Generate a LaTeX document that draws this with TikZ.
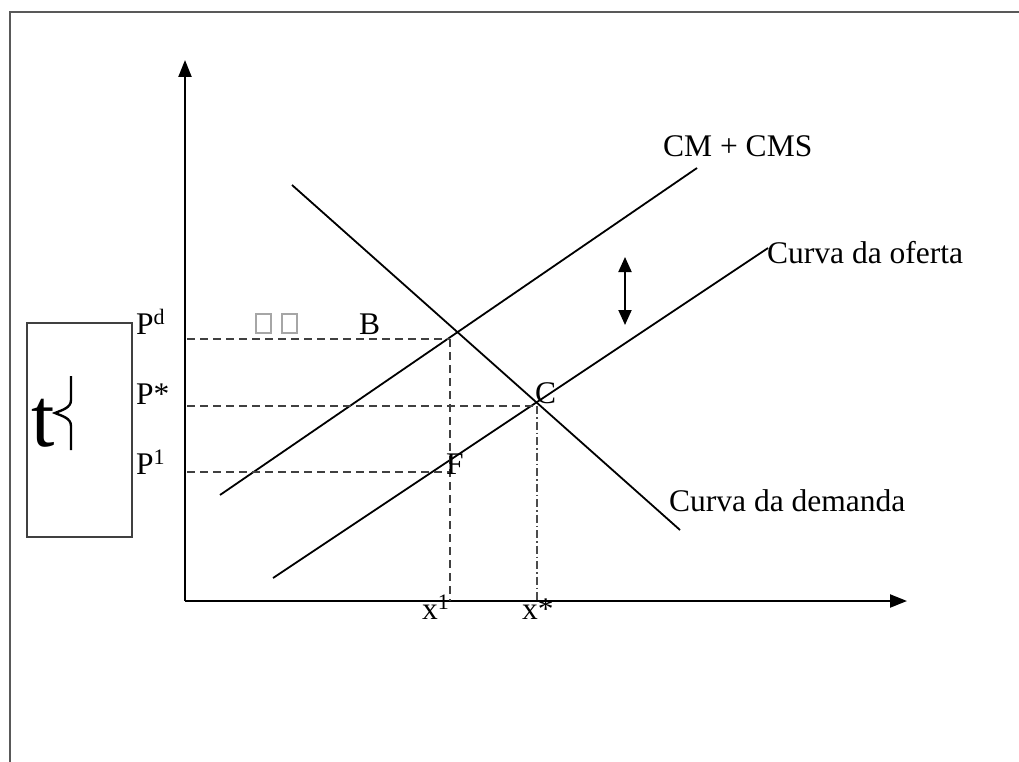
\documentclass[tikz,border=0pt]{standalone}
\usepackage{fontspec}
\setmainfont{Liberation Serif}
\usetikzlibrary{arrows.meta}
\begin{document}
\begin{tikzpicture}[x=1pt,y=-1pt,
  frame/.style={line width=2.6pt, black!65},
  axis/.style={line width=2.2pt, -{Triangle[width=13pt,length=17pt]}},
  curve/.style={line width=1.8pt},
  guide/.style={line width=1.6pt, black!75, dash pattern=on 8pt off 5pt},
  guidedd/.style={line width=1.5pt, black!70, dash pattern=on 8pt off 3pt on 1.5pt off 3pt},
  lbl/.style={anchor=base west, inner sep=0pt, font=\fontsize{31.5}{36}\selectfont},
  tofu/.style={draw=black!35, line width=1.2pt}]
\useasboundingbox (0,0) rectangle (1019,762);
% outer frame (partly cut)
\draw[frame] (10,762) -- (10,12) -- (1019,12);
% axes
\coordinate (O) at (185,601);
\coordinate (ytip) at (185,60);
\coordinate (xtip) at (907,601);
\draw[axis] (O) -- (ytip);
\draw[axis] (O) -- (xtip);
% curves
\coordinate (cms0) at (220,495);
\coordinate (cms1) at (697,168);
\coordinate (s0) at (273,578);
\coordinate (s1) at (768,248);
\coordinate (d0) at (292,185);
\coordinate (d1) at (680,530);
\draw[curve] (cms0) -- (cms1);
\draw[curve] (s0) -- (s1);
\draw[curve] (d0) -- (d1);
% guide lines
\coordinate (pd) at (187,339);
\coordinate (pdE) at (450,339);
\coordinate (x1) at (450,601);
\coordinate (ps) at (187,406);
\coordinate (psE) at (537,406);
\coordinate (xs) at (537,601);
\coordinate (p1) at (187,472);
\coordinate (p1E) at (450,472);
\draw[guide] (pd) -- (pdE);
\draw[guide] (pdE) -- (x1);
\draw[guide] (ps) -- (psE);
\draw[guidedd] (psE) -- (xs);
\draw[guide] (p1) -- (p1E);
% double arrow
\coordinate (da0) at (625,257);
\coordinate (da1) at (625,325);
\draw[line width=2pt, {Triangle[width=13pt,length=15pt]}-{Triangle[width=13pt,length=15pt]}] (da0) -- (da1);
% left box
\node[draw, line width=1.8pt, black!75, minimum width=105pt, minimum height=214pt, inner sep=0pt] (box) at (79.5,430) {};
\node[anchor=base west, inner sep=0pt, font=\fontsize{84}{90}\selectfont] (t) at (31,446) {t};
\draw[line width=2.4pt] (71,376) -- (71,400) .. controls (71,408) and (62,410) .. (55,413)
  .. controls (62,416) and (71,418) .. (71,426) -- (71,450);
% labels
\node[lbl] (Pd) at (136,334) {P\textsuperscript{d}};
\node[lbl] (Ps) at (136,404) {P*};
\node[lbl] (P1) at (136,474) {P\textsuperscript{1}};
\node[lbl] (B) at (359,334) {B};
\node[lbl] (C) at (535,403) {C};
\node[lbl] (F) at (446,474) {F};
\node[lbl] (x1l) at (422,619) {x\textsuperscript{1}};
\node[lbl] (xsl) at (522,619) {x*};
\node[lbl] (cmsl) at (663,157) {CM + CMS};
\node[lbl] (ofl) at (767,263) {Curva da oferta};
\node[lbl] (dml) at (669,511) {Curva da demanda};
% missing-glyph boxes
\draw[tofu] (256,314) rectangle (271,333);
\draw[tofu] (282,314) rectangle (297,333);
\end{tikzpicture}
\end{document}
